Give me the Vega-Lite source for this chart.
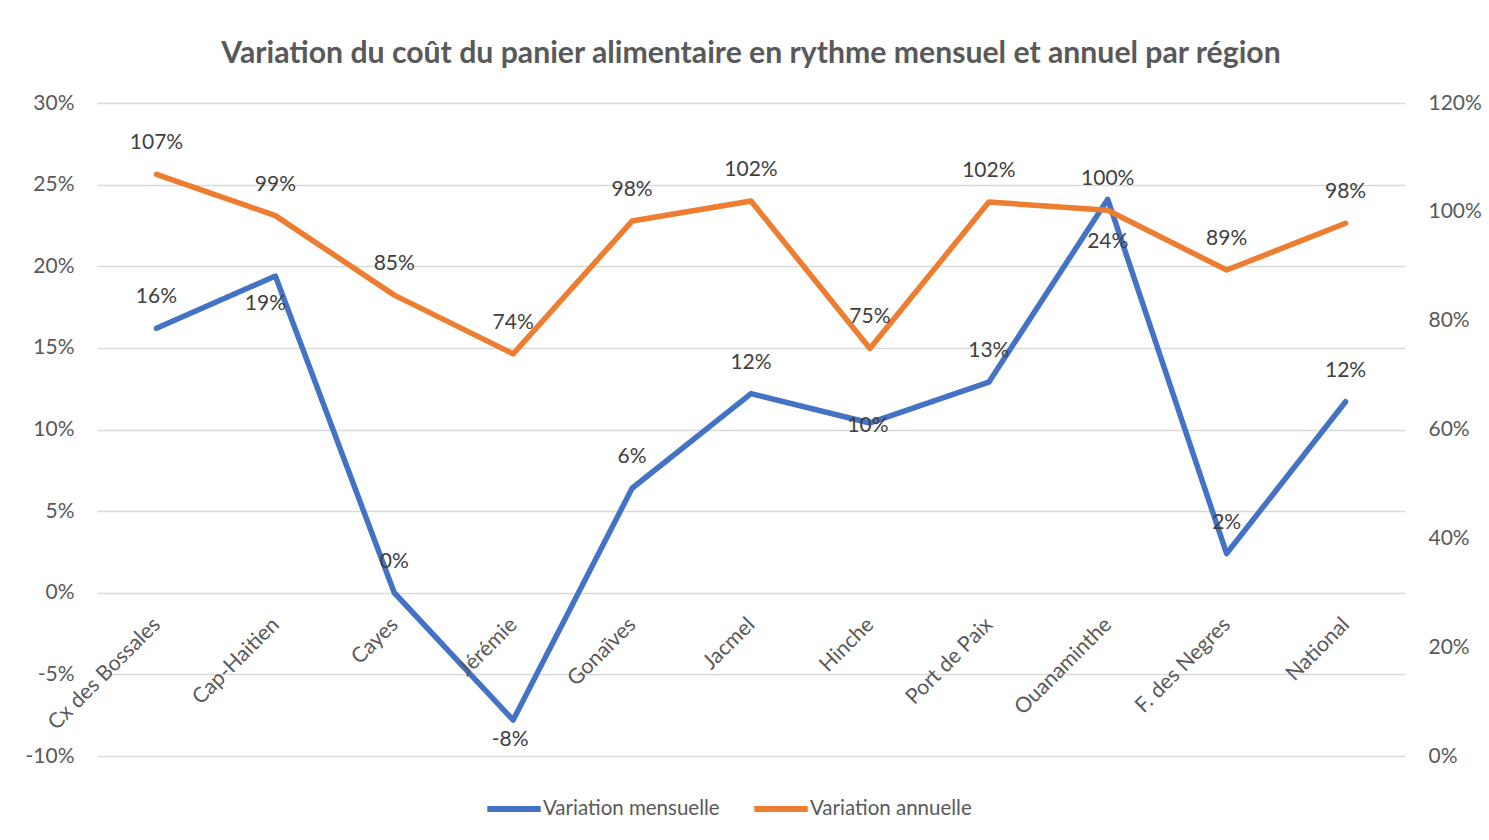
{
  "$schema": "https://vega.github.io/schema/vega-lite/v6.json",
  "width": 1308,
  "height": 653,
  "autosize": {"type": "none"},
  "padding": {"left": 97, "top": 103, "right": 84, "bottom": 84},
  "background": "white",
  "config": {
    "view": {"stroke": null},
    "font": "Lato",
    "locale": {"number": {"decimal": ".", "thousands": ",", "grouping": [3], "currency": ["$", ""], "minus": "-"}}
  },
  "title": {
    "text": "Variation du coût du panier alimentaire en rythme mensuel et annuel par région",
    "font": "Lato",
    "fontSize": 30.2,
    "fontWeight": "bold",
    "color": "#595959",
    "anchor": "middle",
    "frame": "group",
    "offset": 23
  },
  "data": {
    "values": [
      {"region": "Cx des Bossales", "serie": "Variation mensuelle", "value": 0.162},
      {"region": "Cap-Haitien", "serie": "Variation mensuelle", "value": 0.194},
      {"region": "Cayes", "serie": "Variation mensuelle", "value": 0.0},
      {"region": "Jérémie", "serie": "Variation mensuelle", "value": -0.078},
      {"region": "Gonaïves", "serie": "Variation mensuelle", "value": 0.064},
      {"region": "Jacmel", "serie": "Variation mensuelle", "value": 0.122},
      {"region": "Hinche", "serie": "Variation mensuelle", "value": 0.104},
      {"region": "Port de Paix", "serie": "Variation mensuelle", "value": 0.129},
      {"region": "Ouanaminthe", "serie": "Variation mensuelle", "value": 0.241},
      {"region": "F. des Negres", "serie": "Variation mensuelle", "value": 0.024},
      {"region": "National", "serie": "Variation mensuelle", "value": 0.117},
      {"region": "Cx des Bossales", "serie": "Variation annuelle", "value": 1.069},
      {"region": "Cap-Haitien", "serie": "Variation annuelle", "value": 0.993},
      {"region": "Cayes", "serie": "Variation annuelle", "value": 0.847},
      {"region": "Jérémie", "serie": "Variation annuelle", "value": 0.739},
      {"region": "Gonaïves", "serie": "Variation annuelle", "value": 0.983},
      {"region": "Jacmel", "serie": "Variation annuelle", "value": 1.02},
      {"region": "Hinche", "serie": "Variation annuelle", "value": 0.749},
      {"region": "Port de Paix", "serie": "Variation annuelle", "value": 1.018},
      {"region": "Ouanaminthe", "serie": "Variation annuelle", "value": 1.003},
      {"region": "F. des Negres", "serie": "Variation annuelle", "value": 0.893},
      {"region": "National", "serie": "Variation annuelle", "value": 0.979}
    ]
  },
  "encoding": {
    "x": {"field": "region", "type": "nominal", "sort": null, "scale": {"type": "point", "padding": 0.5}, "axis": null}
  },
  "layer": [
    {
      "transform": [{"filter": "datum.serie === 'Variation mensuelle'"}],
      "encoding": {
        "y": {
          "field": "value",
          "type": "quantitative",
          "scale": {"domain": [-0.1, 0.3], "nice": false, "zero": false},
          "axis": {
            "values": [-0.1, -0.05, 0, 0.05, 0.1, 0.15, 0.2, 0.25, 0.3],
            "format": ".0%",
            "grid": true,
            "gridColor": "#D9D9D9",
            "gridWidth": 1.3,
            "domain": false,
            "ticks": false,
            "labelPadding": 23,
            "labelFont": "Lato",
            "labelFontSize": 21,
            "labelColor": "#595959",
            "title": null
          }
        }
      },
      "layer": [
        {
          "mark": {"type": "line", "strokeWidth": 5.5, "strokeCap": "round", "strokeJoin": "round"},
          "encoding": {
            "color": {
              "field": "serie",
              "type": "nominal",
              "scale": {"domain": ["Variation mensuelle", "Variation annuelle"], "range": ["#4472C4", "#ED7D31"]},
              "legend": {
                "orient": "none",
                "legendX": 387,
                "legendY": 676,
                "direction": "horizontal",
                "title": null,
                "symbolType": "stroke",
                "symbolSize": 2850,
                "symbolStrokeWidth": 6,
                "labelFont": "Lato",
                "labelFontSize": 20.5,
                "labelColor": "#595959",
                "labelOffset": -1,
                "labelLimit": 400,
                "columnPadding": 22
              }
            }
          }
        },
        {
          "transform": [{"filter": "indexof(['Cap-Haitien','Jérémie','Hinche','Ouanaminthe'], datum.region) < 0"}],
          "mark": {"type": "text", "dy": -31, "fontSize": 21, "color": "#404040", "font": "Lato"},
          "encoding": {"text": {"field": "value", "type": "quantitative", "format": ".0%"}}
        },
        {
          "transform": [{"filter": "datum.region === 'Cap-Haitien'"}],
          "mark": {"type": "text", "dx": -10, "dy": 28, "fontSize": 21, "color": "#404040", "font": "Lato"},
          "encoding": {"text": {"field": "value", "type": "quantitative", "format": ".0%"}}
        },
        {
          "transform": [{"filter": "datum.region === 'Jérémie'"}],
          "mark": {"type": "text", "dx": -3, "dy": 20, "fontSize": 21, "color": "#404040", "font": "Lato"},
          "encoding": {"text": {"field": "value", "type": "quantitative", "format": ".0%"}}
        },
        {
          "transform": [{"filter": "datum.region === 'Hinche'"}],
          "mark": {"type": "text", "dx": -2, "dy": 3, "fontSize": 21, "color": "#404040", "font": "Lato"},
          "encoding": {"text": {"field": "value", "type": "quantitative", "format": ".0%"}}
        },
        {
          "transform": [{"filter": "datum.region === 'Ouanaminthe'"}],
          "mark": {"type": "text", "dy": 43, "fontSize": 21, "color": "#404040", "font": "Lato"},
          "encoding": {"text": {"field": "value", "type": "quantitative", "format": ".0%"}}
        },
        {
          "mark": {"type": "text", "angle": 315, "align": "right", "baseline": "top", "dx": -20, "dy": 10, "fontSize": 21.3, "color": "#595959", "font": "Lato"},
          "encoding": {"y": {"datum": 0, "type": "quantitative"}, "text": {"field": "region", "type": "nominal"}}
        }
      ]
    },
    {
      "transform": [{"filter": "datum.serie === 'Variation annuelle'"}],
      "encoding": {
        "y": {
          "field": "value",
          "type": "quantitative",
          "scale": {"domain": [0, 1.2], "nice": false, "zero": false},
          "axis": {
            "orient": "right",
            "values": [0, 0.2, 0.4, 0.6, 0.8, 1.0, 1.2],
            "format": ".0%",
            "grid": false,
            "domain": false,
            "ticks": false,
            "labelPadding": 23,
            "labelFont": "Lato",
            "labelFontSize": 21,
            "labelColor": "#595959",
            "title": null
          }
        }
      },
      "layer": [
        {
          "mark": {"type": "line", "strokeWidth": 5.5, "strokeCap": "round", "strokeJoin": "round"},
          "encoding": {"color": {"field": "serie", "type": "nominal"}}
        },
        {
          "mark": {"type": "text", "dy": -31, "fontSize": 21, "color": "#404040", "font": "Lato"},
          "encoding": {"text": {"field": "value", "type": "quantitative", "format": ".0%"}}
        }
      ]
    }
  ],
  "resolve": {"scale": {"y": "independent"}}
}
